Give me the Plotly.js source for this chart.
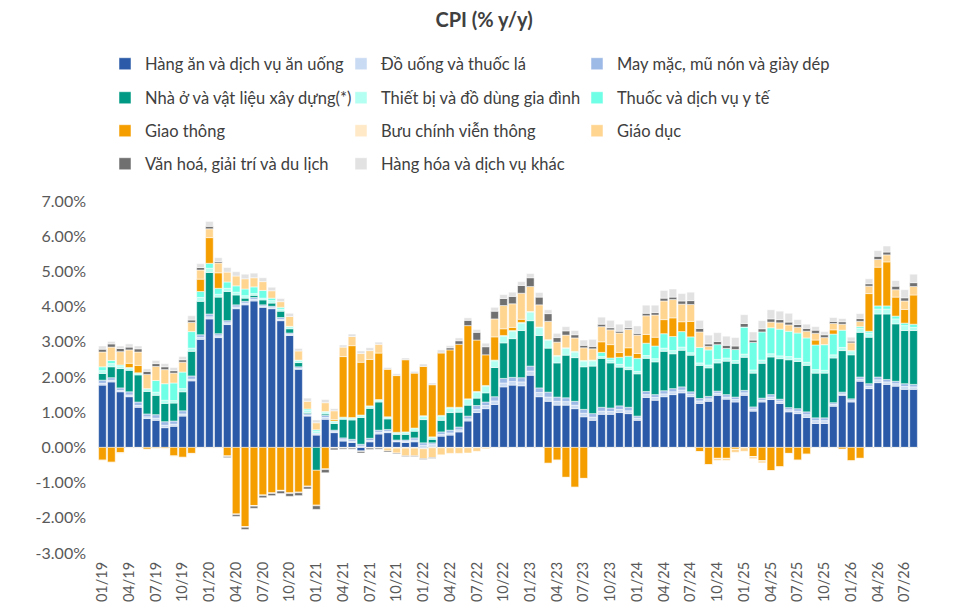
<!DOCTYPE html>
<html>
<head>
<meta charset="utf-8">
<script src="https://cdn.plot.ly/plotly-3.0.1.min.js"></script>
<style>
html,body{margin:0;padding:0;background:#fff;}
#chart{width:976px;height:614px;}
</style>
</head>
<body>
<div id="chart"></div>
<script>
const months = [
"01/19","02/19","03/19","04/19","05/19","06/19","07/19","08/19","09/19","10/19","11/19","12/19",
"01/20","02/20","03/20","04/20","05/20","06/20","07/20","08/20","09/20","10/20","11/20","12/20",
"01/21","02/21","03/21","04/21","05/21","06/21","07/21","08/21","09/21","10/21","11/21","12/21",
"01/22","02/22","03/22","04/22","05/22","06/22","07/22","08/22","09/22","10/22","11/22","12/22",
"01/23","02/23","03/23","04/23","05/23","06/23","07/23","08/23","09/23","10/23","11/23","12/23",
"01/24","02/24","03/24","04/24","05/24","06/24","07/24","08/24","09/24","10/24","11/24","12/24",
"01/25","02/25","03/25","04/25","05/25","06/25","07/25","08/25","09/25","10/25","11/25","12/25",
"01/26","02/26","03/26","04/26","05/26","06/26","07/26","08/26"];

const xTickLabels = ["01/19","04/19","07/19","10/19","01/20","04/20","07/20","10/20","01/21","04/21","07/21","10/21",
"01/22","04/22","07/22","10/22","01/23","04/23","07/23","10/23","01/24","04/24","07/24","10/24",
"01/25","04/25","07/25","10/25","01/26","04/26","07/26"];

const yTickVals = [-3,-2,-1,0,1,2,3,4,5,6,7];
const yTickText = ["-3.00%","-2.00%","-1.00%","0.00%","1.00%","2.00%","3.00%","4.00%","5.00%","6.00%","7.00%"];

const seriesNames = [
"Hàng ăn và dịch vụ ăn uống","Đồ uống và thuốc lá","May mặc, mũ nón và giày dép",
"Nhà ở và vật liệu xây dựng(*)","Thiết bị và đồ dùng gia đình","Thuốc và dịch vụ y tế",
"Giao thông","Bưu chính viễn thông","Giáo dục",
"Văn hoá, giải trí và du lịch","Hàng hóa và dịch vụ khác"];

const seriesColors = ["#2B5BA8","#C9DAF3","#9DB9E6","#009A84","#B3FFF1","#6FFFE6",
"#F59E00","#FFE9C6","#FFD590","#707070","#E2E2E2"];

const food = [
1.77,1.86,1.58,1.44,1.14,0.82,0.77,0.56,0.60,0.89,1.89,3.07,
3.65,3.12,3.49,3.94,4.05,4.16,3.98,3.94,3.60,3.18,2.22,0.89,
0.35,0.80,0.42,0.18,0.14,-0.10,0.16,0.38,0.42,0.16,0.14,0.16,
-0.03,0.03,0.32,0.35,0.44,0.75,0.99,1.10,1.22,1.72,1.77,1.75,
2.05,1.44,1.31,1.20,1.20,1.10,0.87,0.77,0.94,0.94,0.99,0.96,
0.77,1.42,1.34,1.44,1.50,1.55,1.44,1.25,1.31,1.48,1.37,1.29,
1.48,1.03,1.29,1.36,1.25,1.01,0.96,0.85,0.68,0.68,1.17,1.48,
1.29,1.88,1.67,1.84,1.79,1.74,1.65,1.65];

const beverages = [
0.05,0.05,0.04,0.05,0.05,0.05,0.06,0.07,0.06,0.06,0.05,0.05,
0.06,0.05,0.05,0.05,0.05,0.05,0.03,0.03,0.04,0.03,0.03,0.03,
0.02,0.05,0.03,0.04,0.04,0.04,0.04,0.05,0.04,0.02,0.03,0.05,
0.06,0.05,0.05,0.06,0.06,0.06,0.09,0.09,0.10,0.11,0.10,0.11,
0.12,0.12,0.12,0.11,0.10,0.10,0.10,0.09,0.09,0.08,0.09,0.08,
0.06,0.08,0.08,0.08,0.08,0.08,0.07,0.07,0.07,0.06,0.06,0.07,
0.07,0.06,0.05,0.07,0.06,0.06,0.07,0.08,0.08,0.08,0.05,0.04,
0.04,0.06,0.07,0.08,0.07,0.07,0.08,0.07];

const clothing = [
0.09,0.07,0.07,0.09,0.10,0.08,0.10,0.10,0.09,0.09,0.09,0.08,
0.08,0.06,0.06,0.06,0.05,0.05,0.04,0.04,0.05,0.04,0.04,0.04,
0.03,0.06,0.04,0.05,0.05,0.05,0.06,0.06,0.05,0.03,0.04,0.06,
0.07,0.05,0.07,0.08,0.08,0.08,0.11,0.10,0.12,0.13,0.12,0.12,
0.14,0.13,0.14,0.12,0.11,0.11,0.11,0.10,0.11,0.10,0.10,0.10,
0.06,0.09,0.08,0.09,0.09,0.09,0.07,0.07,0.07,0.06,0.07,0.07,
0.07,0.06,0.06,0.07,0.06,0.06,0.07,0.08,0.08,0.08,0.05,0.05,
0.05,0.06,0.07,0.08,0.07,0.07,0.08,0.07];

const housing = [
0.19,0.31,0.55,0.61,0.77,0.64,0.55,0.52,0.51,0.54,0.70,0.95,
1.18,1.04,0.83,0.28,0.09,0.06,0.14,0.09,0.18,0.12,0.12,0.03,
-0.65,0.04,0.19,0.53,0.55,0.76,0.85,0.80,0.30,0.16,0.16,0.19,
0.66,0.10,0.33,0.50,0.42,0.31,0.21,0.26,0.83,1.01,1.10,1.34,
1.29,1.49,1.25,0.97,1.21,1.24,1.21,1.35,1.39,1.28,1.10,1.07,
1.20,0.94,0.93,1.12,0.99,1.04,1.04,0.94,0.81,0.80,0.95,0.96,
0.94,0.96,0.99,1.07,1.15,1.36,1.34,1.32,1.27,1.27,1.27,1.18,
1.25,1.27,1.32,1.79,1.86,1.63,1.51,1.53];

const household = [
0.08,0.09,0.07,0.06,0.06,0.08,0.09,0.09,0.07,0.09,0.09,0.11,
0.12,0.08,0.09,0.08,0.07,0.05,0.05,0.07,0.06,0.07,0.07,0.06,
0.06,0.04,0.05,0.04,0.05,0.05,0.05,0.05,0.04,0.04,0.05,0.07,
0.09,0.05,0.12,0.13,0.12,0.16,0.17,0.19,0.19,0.19,0.21,0.21,
0.24,0.22,0.22,0.19,0.19,0.16,0.16,0.15,0.05,0.08,0.08,0.07,
0.07,0.08,0.09,0.09,0.09,0.09,0.07,0.07,0.08,0.10,0.09,0.08,
0.09,0.09,0.09,0.09,0.08,0.09,0.09,0.09,0.10,0.08,0.09,0.09,
0.09,0.11,0.12,0.14,0.14,0.14,0.14,0.09];

const medicine = [
0.11,0.09,0.03,0.02,0.00,0.00,0.33,0.47,0.50,0.47,0.47,0.17,
0.14,0.17,0.18,0.18,0.19,0.19,0.22,0.07,0.05,0.00,0.00,0.04,
0.04,0.03,0.02,0.02,0.02,0.02,0.02,0.02,0.02,0.02,0.02,0.02,
0.02,0.02,0.02,0.02,0.02,0.02,0.02,0.02,0.02,0.02,0.02,0.02,
0.02,0.02,0.02,0.02,0.02,0.02,0.02,0.02,0.12,0.06,0.20,0.31,
0.37,0.35,0.36,0.41,0.40,0.44,0.45,0.44,0.43,0.42,0.27,0.31,
0.77,0.78,0.80,0.74,0.76,0.72,0.72,0.69,0.70,0.73,0.59,0.49,
0.03,0.05,0.05,0.09,0.09,0.08,0.07,0.09];

const transport = [
-0.36,-0.42,-0.15,0.12,0.21,-0.05,-0.02,-0.03,-0.24,-0.28,-0.17,0.35,
0.73,0.44,-0.24,-1.89,-2.25,-1.65,-1.35,-1.29,-1.22,-1.29,-1.27,-1.10,
-0.99,-0.61,0.04,1.72,2.04,1.50,1.32,1.32,1.35,1.61,2.05,1.56,
1.40,1.48,1.77,1.63,1.79,2.08,1.46,0.87,0.66,0.19,0.09,0.09,
0.00,0.00,-0.45,-0.36,-0.85,-1.13,-0.88,0.00,0.30,0.38,0.14,0.24,
0.14,0.25,0.25,0.40,0.53,0.28,0.44,-0.12,-0.49,-0.31,-0.31,-0.05,
0.00,-0.26,-0.38,-0.66,-0.55,-0.17,-0.36,-0.19,0.14,0.00,0.12,-0.05,
-0.38,-0.31,1.07,1.10,1.25,0.54,0.39,0.83];

const postal = [
-0.02,-0.02,-0.02,-0.02,-0.02,-0.02,-0.02,-0.02,-0.02,-0.02,-0.02,-0.02,
-0.02,-0.02,-0.02,-0.02,-0.02,-0.02,-0.02,-0.02,-0.02,-0.02,-0.02,-0.02,
-0.02,-0.02,-0.02,-0.02,-0.02,-0.02,-0.02,-0.02,-0.02,-0.02,-0.02,-0.02,
-0.01,-0.01,-0.01,-0.01,-0.01,-0.01,-0.01,-0.01,-0.01,-0.01,-0.01,-0.01,
-0.01,-0.01,-0.01,-0.01,-0.01,-0.01,-0.01,-0.01,-0.01,-0.01,-0.01,-0.01,
-0.01,-0.01,-0.01,-0.01,-0.01,-0.01,-0.01,-0.01,-0.01,-0.01,-0.01,-0.01,
-0.01,-0.01,-0.01,-0.01,-0.01,-0.01,-0.01,-0.01,-0.01,-0.01,-0.01,-0.01,
-0.01,-0.01,-0.01,-0.01,-0.01,-0.01,-0.01,-0.01];

const education = [
0.42,0.38,0.38,0.38,0.38,0.40,0.40,0.40,0.28,0.28,0.26,0.26,
0.25,0.28,0.28,0.28,0.29,0.26,0.25,0.21,0.16,0.28,0.26,0.22,
0.20,0.25,0.25,0.27,0.26,0.25,0.25,0.25,-0.08,-0.14,-0.22,-0.22,
-0.28,-0.28,-0.20,-0.16,-0.16,-0.15,-0.10,-0.03,0.51,0.66,0.67,0.74,
0.71,0.63,0.52,0.38,0.36,0.38,0.36,0.32,0.43,0.42,0.55,0.52,
0.52,0.53,0.63,0.53,0.52,0.50,0.48,0.44,0.10,-0.05,-0.05,-0.08,
-0.10,-0.05,-0.05,0.16,0.18,0.18,0.16,0.19,0.19,0.20,0.18,0.17,
0.22,0.15,0.21,0.22,0.20,0.21,0.24,0.24];

const culture = [
0.08,0.09,0.09,0.08,0.09,0.09,0.08,0.08,0.07,0.07,0.07,0.07,
0.07,0.04,-0.03,-0.05,-0.06,-0.06,-0.06,-0.06,-0.07,-0.08,-0.08,-0.06,
-0.10,-0.09,-0.05,-0.03,-0.03,-0.04,-0.04,-0.03,-0.03,-0.02,-0.02,-0.02,
-0.02,-0.02,0.02,0.06,0.10,0.15,0.22,0.23,0.22,0.20,0.21,0.22,
0.25,0.22,0.22,0.13,0.12,0.09,0.07,0.07,0.07,0.06,0.05,0.05,
0.05,0.07,0.07,0.08,0.07,0.09,0.11,0.10,0.07,0.09,0.09,0.10,
0.10,0.07,0.09,0.09,0.09,0.08,0.08,0.08,0.09,0.08,0.06,0.07,
0.05,0.08,0.07,0.09,0.08,0.10,0.09,0.11];

const other = [
0.09,0.07,0.07,0.09,0.08,0.07,0.09,0.09,0.09,0.09,0.12,0.11,
0.14,0.11,0.13,0.12,0.13,0.13,0.11,0.10,0.09,0.09,0.07,0.09,
0.08,0.09,0.06,0.06,0.07,0.07,0.08,0.06,0.05,0.05,0.05,0.05,
0.07,0.05,0.07,0.06,0.08,0.07,0.08,0.10,0.11,0.11,0.12,0.11,
0.12,0.13,0.11,0.12,0.12,0.12,0.15,0.20,0.20,0.21,0.20,0.21,
0.21,0.23,0.21,0.22,0.23,0.21,0.24,0.23,0.25,0.25,0.26,0.24,
0.25,0.23,0.23,0.26,0.24,0.25,0.14,0.12,0.10,0.09,0.11,0.09,
0.11,0.14,0.14,0.16,0.17,0.16,0.23,0.24];

const seriesValues = [food,beverages,clothing,housing,household,medicine,transport,postal,education,culture,other];

const FONT = "Lato, 'Open Sans', sans-serif";
const W = 976, H = 614;
const plotL = 98, plotR = 918, plotT = 201, plotB = 553;
const pw = plotR - plotL, ph = plotB - plotT;

// legend grid: text start columns (px) and row centres (px)
const colTextX = [145, 381, 617];
const rowY = [64, 98, 131, 164];

const traces = [];
const legends = {};
seriesValues.forEach((vals, i) => {
  const key = i === 0 ? 'legend' : 'legend' + (i + 1);
  traces.push({
    type: 'bar',
    name: seriesNames[i],
    x: months,
    y: vals,
    legend: key,
    marker: {color: seriesColors[i], line: {color: '#ffffff', width: 0.5}},
    hoverinfo: 'skip'
  });
  const col = i % 3, row = Math.floor(i / 3);
  legends[key] = {
    x: (colTextX[col] - 40 - plotL) / pw,
    y: (plotB - rowY[row]) / ph,
    xanchor: 'left', yanchor: 'middle',
    orientation: 'h',
    bgcolor: 'rgba(0,0,0,0)',
    font: {family: FONT, size: 16.5, color: '#404040'}
  };
});

const layout = Object.assign({
  width: W, height: H,
  margin: {l: plotL, r: W - plotR, t: plotT, b: H - plotB},
  paper_bgcolor: '#ffffff',
  plot_bgcolor: '#ffffff',
  barmode: 'relative',
  bargap: 0.14,
  showlegend: true,
  title: {
    text: '<b>CPI (% y/y)</b>',
    font: {family: FONT, size: 20, color: '#404040'},
    xref: 'container', x: 0.496, xanchor: 'center',
    yref: 'container', y: 1 - 20 / H, yanchor: 'middle'
  },
  xaxis: {
    type: 'category',
    categoryorder: 'array',
    categoryarray: months,
    tickmode: 'array',
    tickvals: xTickLabels,
    ticktext: xTickLabels,
    tickangle: -90,
    tickfont: {family: FONT, size: 14.5, color: '#595959'},
    ticklabelstandoff: 5,
    showgrid: false,
    showline: false,
    ticks: '',
    zeroline: false,
    fixedrange: true
  },
  yaxis: {
    range: [-3, 7],
    tickmode: 'array',
    tickvals: yTickVals,
    ticktext: yTickText,
    tickfont: {family: FONT, size: 16, color: '#595959'},
    showgrid: false,
    showline: false,
    ticks: '',
    ticklabelstandoff: 11,
    zeroline: true,
    zerolinecolor: '#d9d9d9',
    zerolinewidth: 1,
    fixedrange: true
  }
}, legends);

Plotly.newPlot('chart', traces, layout, {displayModeBar: false, staticPlot: true});
</script>
</body>
</html>
